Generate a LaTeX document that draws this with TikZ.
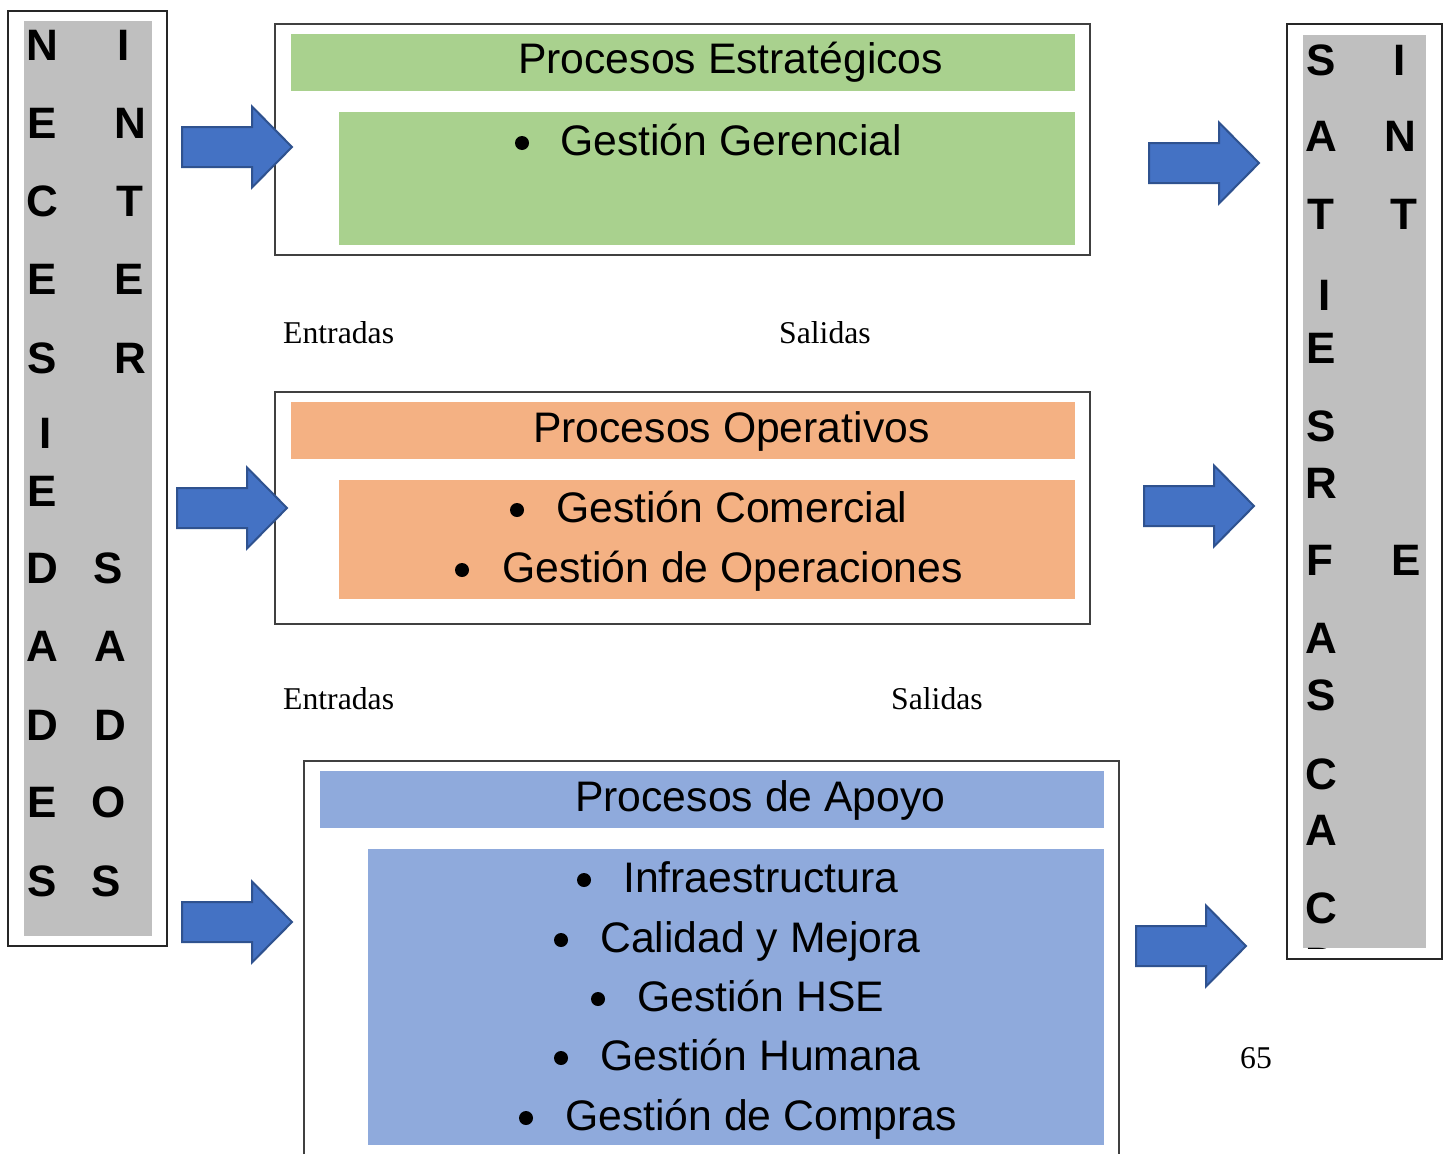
\documentclass[tikz,border=0pt]{standalone}
\usepackage{fontspec}
\setmainfont{Liberation Sans}
\newfontfamily\lblfont{Liberation Serif}
\definecolor{estrat}{HTML}{A9D18E}
\definecolor{operat}{HTML}{F4B183}
\definecolor{apoyo}{HTML}{8FAADC}
\definecolor{colgray}{HTML}{BFBFBF}
\definecolor{arrfill}{HTML}{4472C4}
\definecolor{arrline}{HTML}{2F528F}
\definecolor{framecol}{HTML}{404040}
\newcommand{\blockarrow}[3]{% name, left x, center y
  \draw[arrowstyle] (#2,#3-20) coordinate (#1) -- (#2+70,#3-20) -- (#2+70,#3-40.5) -- (#2+110,#3) -- (#2+70,#3+40.5) -- (#2+70,#3+20) -- (#2,#3+20) -- cycle;}
\begin{document}
\begin{tikzpicture}[x=1pt,y=-1pt,
  frame/.style={draw=framecol,line width=1.6pt},
  colframe/.style={draw=black!85,line width=1.4pt},
  arrowstyle/.style={fill=arrfill,draw=arrline,line width=2pt,line join=miter},
  boxtext/.style={anchor=base west,inner sep=0pt,font=\fontsize{42.7}{50}\selectfont},
  letter/.style={anchor=base,inner sep=0pt,font=\bfseries\fontsize{44}{50}\selectfont},
  lbl/.style={anchor=base west,inner sep=0pt,font=\lblfont\fontsize{31.7}{36}\selectfont},
  bul/.style={circle,fill=black,inner sep=0pt,minimum size=14pt}]
\useasboundingbox (0,0) rectangle (1448,1154);
\fill[white] (0,0) rectangle (1448,1154);

% ---------- left column ----------
\draw[colframe] (8,11) rectangle (167,946);
\fill[colgray] (24,21) rectangle (152,936);
\foreach \x/\y/\t [count=\i] in {42/60/N,42/138/E,42/216/C,42/294/E,42/373/S,46/448/I,42/506/E,42/583/D,42/661/A,42/740/D,42/817/E,42/896/S,
  124/60/I,130/138/N,130/216/T,129/294/E,130/373/R,108/583/S,110/661/A,110/740/D,109/817/O,106/896/S}
  \node[letter] (L\i) at (\x,\y) {\t};

% ---------- right column ----------
\draw[colframe] (1287,24) rectangle (1442,959);
\fill[colgray] (1303,35) rectangle (1426,948);
\begin{scope}
\clip (1303,35) rectangle (1426,948);
\foreach \x/\y/\t [count=\i] in {1321/75/S,1321/151/A,1321/229/T,1325/310/I,1321/363/E,1321/441/S,1321/498/R,1320/575/F,1321/653/A,1321/710/S,1321/789/C,1321/845/A,1321/923/C,1321/978/D,
  1400/75/I,1400/151/N,1404/229/T,1406/575/E}
  \node[letter] (R\i) at (\x,\y) {\t};
\end{scope}

% ---------- box 1: estrategicos ----------
\draw[frame] (275,24) rectangle (1090,255);
\fill[estrat] (291,34) rectangle (1075,91);
\fill[estrat] (339,112) rectangle (1075,245);
\node[boxtext] (t1) at (518,73) {Procesos Estratégicos};
\node[bul] (b11) at (522,143) {};
\node[boxtext] (g11) at (560,155) {Gestión Gerencial};

% ---------- box 2: operativos ----------
\draw[frame] (275,392) rectangle (1090,624);
\fill[operat] (291,402) rectangle (1075,459);
\fill[operat] (339,480) rectangle (1075,599);
\node[boxtext] (t2) at (533,442) {Procesos Operativos};
\node[bul] (b21) at (517,510) {};
\node[boxtext] (g21) at (556,522) {Gestión Comercial};
\node[bul] (b22) at (462,570) {};
\node[boxtext] (g22) at (502,582) {Gestión de Operaciones};

% ---------- box 3: apoyo ----------
\draw[frame] (304,1154) -- (304,761) -- (1119,761) -- (1119,1154);
\fill[apoyo] (320,771) rectangle (1104,828);
\fill[apoyo] (368,849) rectangle (1104,1145);
\node[boxtext] (t3) at (575,811) {Procesos de Apoyo};
\node[bul] (b31) at (584,880) {};
\node[boxtext] (g31) at (623,892) {Infraestructura};
\node[bul] (b32) at (561,940) {};
\node[boxtext] (g32) at (600,952) {Calidad y Mejora};
\node[bul] (b33) at (598,999) {};
\node[boxtext] (g33) at (637,1011) {Gestión HSE};
\node[bul] (b34) at (561,1058) {};
\node[boxtext] (g34) at (600,1070) {Gestión Humana};
\node[bul] (b35) at (526,1118) {};
\node[boxtext] (g35) at (565,1130) {Gestión de Compras};

% ---------- labels ----------
\node[lbl] (e1) at (283,343) {Entradas};
\node[lbl] (s1) at (779,343) {Salidas};
\node[lbl] (e2) at (283,709) {Entradas};
\node[lbl] (s2) at (891,709) {Salidas};
\node[lbl] (pg) at (1240,1068) {65};

% ---------- arrows ----------
\blockarrow{al1}{182}{147}
\blockarrow{al2}{177}{508}
\blockarrow{al3}{182}{922}
\blockarrow{ar1}{1149}{163}
\blockarrow{ar2}{1144}{506}
\blockarrow{ar3}{1136}{946}
\end{tikzpicture}
\end{document}
